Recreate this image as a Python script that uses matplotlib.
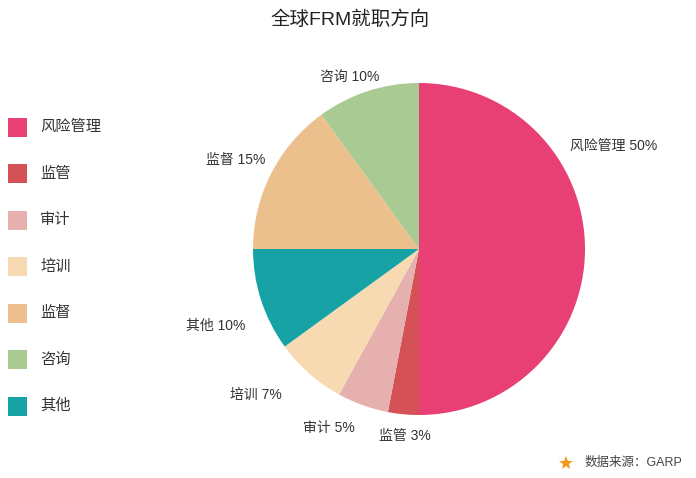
import matplotlib
matplotlib.use("Agg")
import matplotlib.pyplot as plt
from matplotlib.patches import Rectangle

plt.rcParams["font.family"] = ["Liberation Sans", "Noto Sans CJK SC", "DejaVu Sans"]

categories = ["风险管理", "监管", "审计", "培训", "监督", "咨询", "其他"]
shares = [50, 3, 5, 7, 15, 10, 10]
colors = ["#E84074", "#D45256", "#E6B0AE", "#F7DAB2", "#EBC08C", "#AACA94", "#17A2A5"]
# order of slices on the pie (clockwise from top)
slice_order = ["风险管理", "监管", "审计", "培训", "其他", "监督", "咨询"]

# label anchor points (pixel coords, y from top) and alignment
label_pos = {
    "风险管理": (570, 147, "left"),
    "咨询": (350, 77, "center"),
    "监督": (265, 160, "right"),
    "其他": (245, 326, "right"),
    "培训": (282, 395, "right"),
    "审计": (355, 428, "right"),
    "监管": (379, 436, "left"),
}

W, H = 696, 478
fig = plt.figure(figsize=(W / 100, H / 100), dpi=100)
ax = fig.add_axes([0, 0, 1, 1])

color_of = dict(zip(categories, colors))
share_of = dict(zip(categories, shares))
vals = [share_of[c] for c in slice_order]
cols = [color_of[c] for c in slice_order]
ax.pie(vals, colors=cols, startangle=90, counterclock=False,
       center=(419, H - 249), radius=166, frame=True,
       wedgeprops=dict(linewidth=0))
ax.set_xlim(0, W)
ax.set_ylim(0, H)
ax.set_aspect("equal")
ax.axis("off")

for c in slice_order:
    x, y, ha = label_pos[c]
    ax.text(x, H - y, f"{c} {share_of[c]}%", ha=ha, va="center",
            fontsize=10, color="#333333")

# legend, drawn by hand: one square and label per row
for i, c in enumerate(categories):
    yc = H - (127 + i * 46.5)
    ax.add_patch(Rectangle((8, yc - 9.5), 19, 19, color=color_of[c], lw=0))
    ax.text(40, yc, c, ha="left", va="center", fontsize=11, color="#333333")

ax.text(350, H - 20, "全球FRM就职方向", ha="center", va="center",
        fontsize=14, color="#222222", fontweight="medium")

ax.plot([566], [H - 463], marker="*", color="#F39A1E", markersize=10, mew=0)
ax.text(585, H - 463, "数据来源：GARP", ha="left", va="center",
        fontsize=9, color="#444444")

fig.savefig("out.png", dpi=100)
